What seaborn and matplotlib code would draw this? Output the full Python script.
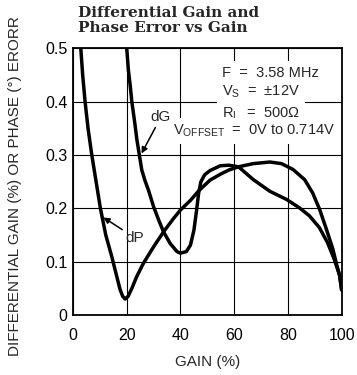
import matplotlib
matplotlib.use("Agg")
import matplotlib.pyplot as plt
import seaborn as sns
import pandas as pd

# ---- data ----
dp_gain = [2.9, 3.6, 4.5, 5.6, 7.0, 8.6, 10.2, 12.2, 14.4, 16.0, 17.5, 18.5, 19.4, 20.5,
           21.9, 23.7, 26.2, 30.0, 33.7, 37.4, 40.0, 43.7, 46.8, 51.0, 54.8, 58.0, 61.6,
           67.1, 73.3, 77.6, 81.9, 86.2, 89.2, 91.8, 94.3, 96.7, 98.2, 99.2, 100.0]
dp_err = [0.50, 0.45, 0.40, 0.35, 0.30, 0.25, 0.20, 0.15, 0.11, 0.078, 0.048, 0.035, 0.030, 0.035,
          0.050, 0.072, 0.097, 0.128, 0.156, 0.181, 0.197, 0.215, 0.233, 0.253, 0.264, 0.272, 0.278,
          0.284, 0.287, 0.284, 0.273, 0.254, 0.229, 0.198, 0.161, 0.124, 0.093, 0.075, 0.047]

dg_gain = [20.0, 20.6, 21.3, 21.9, 23.0, 23.8, 24.7, 25.6, 26.8, 28.1, 30.0, 31.9, 33.7, 36.2,
           38.7, 40.0, 42.2, 43.7, 45.0, 46.0, 46.8, 47.6, 49.0, 51.0, 54.8, 58.0, 61.6, 67.1, 73.3,
           79.4, 84.3, 88.0, 91.7, 94.7, 97.2, 99.2, 100.0]
dg_err = [0.50, 0.46, 0.43, 0.40, 0.36, 0.328, 0.30, 0.272, 0.252, 0.234, 0.203, 0.178, 0.156, 0.134,
          0.119, 0.116, 0.119, 0.131, 0.159, 0.197, 0.230, 0.250, 0.263, 0.271, 0.280, 0.281, 0.278, 0.254, 0.232,
          0.217, 0.201, 0.186, 0.164, 0.136, 0.105, 0.075, 0.047]

x_ticks = [0, 20, 40, 60, 80, 100]
x_labels = ["0", "20", "40", "60", "80", "100"]
y_ticks = [0, 0.1, 0.2, 0.3, 0.4, 0.5]
y_labels = ["0", "0.1", "0.2", "0.3", "0.4", "0.5"]

title_text = "Differential Gain and\nPhase Error vs Gain"
x_title = "GAIN (%)"
y_title = "DIFFERENTIAL GAIN (%) OR PHASE (°) ERORR"
cond_lines = ["F  =  3.58 MHz", r"V$_{S}$  =  ±12V", r"R$_{L}$  =  500Ω",
              r"V$_{OFFSET}$  =  0V to 0.714V"]

# ---- style ----
sns.set_style("white")
plt.rcParams["font.family"] = ["Liberation Sans", "DejaVu Sans"]
plt.rcParams["mathtext.default"] = "regular"

df = pd.concat([
    pd.DataFrame({"gain": dp_gain, "err": dp_err, "series": "dP"}),
    pd.DataFrame({"gain": dg_gain, "err": dg_err, "series": "dG"}),
])

fig = plt.figure(figsize=(3.57, 3.75), dpi=100)
ax = fig.add_axes([0.2045, 0.16, 0.7526, 0.7107])

sns.lineplot(data=df, x="gain", y="err", units="series", estimator=None, sort=False,
             color="black", linewidth=2.5, ax=ax, legend=False, zorder=3)

ax.set_xlim(0, 100)
ax.set_ylim(0, 0.5)
ax.set_xticks(x_ticks)
ax.set_xticklabels(x_labels)
ax.set_yticks(y_ticks)
ax.set_yticklabels(y_labels)
ax.tick_params(axis="both", length=0, labelsize=11.5, colors="black")
ax.tick_params(axis="x", pad=9)
ax.tick_params(axis="y", pad=4)
ax.grid(True, color="black", linewidth=0.8)
for s in ax.spines.values():
    s.set_visible(True)
    s.set_color("black")
    s.set_linewidth(1.3)

ax.set_xlabel(x_title, fontsize=11, labelpad=9)
ax.set_ylabel(y_title, fontsize=11)
ax.yaxis.set_label_coords(-0.19, 0.485)

fig.text(0.2185, 0.985, title_text, fontsize=11, fontweight="bold",
         family="DejaVu Serif", ha="left", va="top", linespacing=1.15)

# condition box (white background interrupting the grid)
cond_x = [55.5, 55.5, 55.5, 37.2]
cond_y = [0.4465, 0.411, 0.3696, 0.3377]
for t, xx, yy in zip(cond_lines, cond_x, cond_y):
    ax.text(xx, yy, t, fontsize=10.5, ha="left", va="baseline", zorder=4,
            bbox=dict(facecolor="white", edgecolor="none", pad=3.5))

ap = dict(arrowstyle="-|>", color="black", lw=1.1, mutation_scale=9, shrinkA=0, shrinkB=0)
ax.annotate("dG", xy=(25.5, 0.303), xytext=(32.7, 0.371), fontsize=11,
            ha="center", va="center", arrowprops=ap, zorder=5)
ax.annotate("dP", xy=(11.3, 0.183), xytext=(23.0, 0.145), fontsize=11,
            ha="center", va="center", arrowprops=ap, zorder=5)

fig.savefig("out.png", dpi=100)
